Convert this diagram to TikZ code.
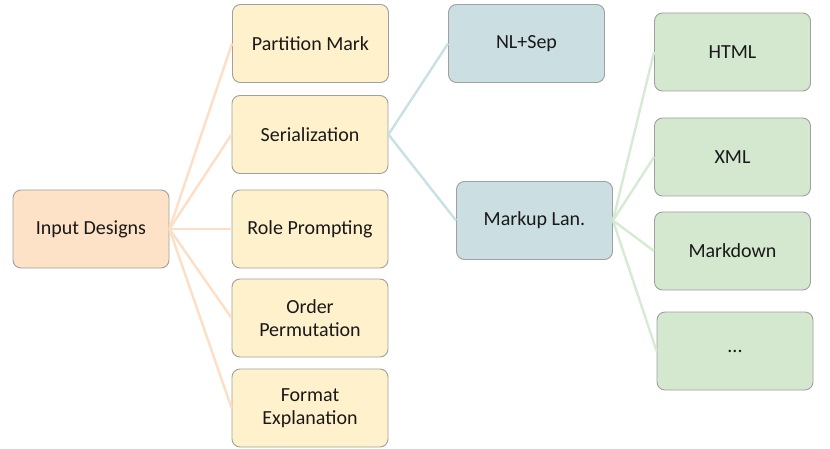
\documentclass[tikz,border=0pt]{standalone}
\usepackage{fontspec}
\setmainfont{Carlito}
\definecolor{fillorange}{HTML}{FDE2C8}
\definecolor{fillyellow}{HTML}{FFF1CB}
\definecolor{fillblue}{HTML}{CBDEE2}
\definecolor{fillgreen}{HTML}{D3E8CF}
\definecolor{lineorange}{HTML}{FDDFC6}
\definecolor{lineblue}{HTML}{C9E0E4}
\definecolor{linegreen}{HTML}{D5EBD3}
\definecolor{boxgray}{HTML}{A0A0A0}
\begin{document}
\begin{tikzpicture}[x=1pt,y=-1pt,
  box/.style={draw=boxgray, line width=0.9pt, rounded corners=8pt,
    minimum width=156pt, minimum height=78pt, align=center, inner sep=0pt,
    font=\fontsize{20}{23}\selectfont, text=black!90},
  obox/.style={box, fill=fillorange},
  ybox/.style={box, fill=fillyellow},
  bbox/.style={box, fill=fillblue},
  gbox/.style={box, fill=fillgreen},
  oline/.style={draw=lineorange, line width=2.4pt},
  bline/.style={draw=lineblue, line width=2.4pt},
  gline/.style={draw=linegreen, line width=2.4pt}]
\useasboundingbox (0,0) rectangle (830,449);

\node[obox] (in) at (91,229) {Input Designs};
\node[ybox] (pm) at (310.5,43.5) {Partition Mark};
\node[ybox] (se) at (310,134.5) {Serialization};
\node[ybox] (rp) at (310,229) {Role Prompting};
\node[ybox] (op) at (310,318) {Order\\Permutation};
\node[ybox] (fe) at (310,408) {Format\\Explanation};
\node[bbox] (nl) at (526.5,43.5) {NL+Sep};
\node[bbox] (ml) at (534.5,220.5) {Markup Lan.};
\node[gbox] (ht) at (732.5,52) {HTML};
\node[gbox] (xm) at (732.5,157) {XML};
\node[gbox] (md) at (732.5,251) {Markdown};
\node[gbox] (dt) at (735,351) {...};

\draw[oline] (in.east) -- (pm.west);
\draw[oline] (in.east) -- (se.west);
\draw[oline] (in.east) -- (rp.west);
\draw[oline] (in.east) -- (op.west);
\draw[oline] (in.east) -- (fe.west);
\draw[bline] (se.east) -- (nl.west);
\draw[bline] (se.east) -- (ml.west);
\draw[gline] (ml.east) -- (ht.west);
\draw[gline] (ml.east) -- (xm.west);
\draw[gline] (ml.east) -- (md.west);
\draw[gline] (ml.east) -- (dt.west);
\end{tikzpicture}
\end{document}
